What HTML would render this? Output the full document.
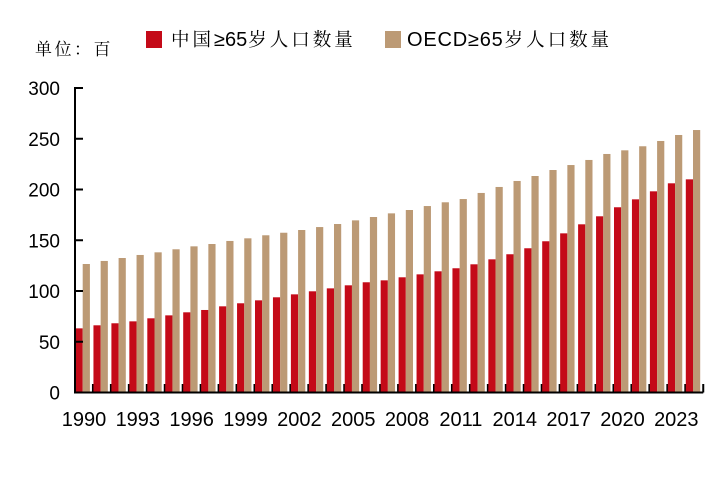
<!DOCTYPE html>
<html><head><meta charset="utf-8"><style>
body{margin:0;background:#fff;width:722px;height:475px;overflow:hidden;font-family:"Liberation Sans","Noto Sans CJK SC",sans-serif;}
svg text{font-family:"Liberation Sans","Noto Sans CJK SC",sans-serif;}
.cj{font-family:"Noto Serif CJK SC","Liberation Serif",serif;font-size:18.5px;letter-spacing:3px;}
</style></head><body>
<svg id="chart" width="722" height="475">
<text x="35" y="55" class="cj" style="font-size:17px;letter-spacing:2.5px">单位：百</text>
<g>
<rect x="146" y="31" width="16" height="17" fill="#c40a18"/>
<text x="171" y="46"><tspan class="cj">中国</tspan><tspan font-size="20">≥65</tspan><tspan class="cj" dx="1">岁人口数量</tspan></text>
<rect x="385" y="31" width="16" height="17" fill="#bc9a75"/>
<text x="407" y="46"><tspan font-size="20" letter-spacing="0.8">OECD≥65</tspan><tspan class="cj" dx="1">岁人口数量</tspan></text>
</g>
<g id="plot"></g>
</svg>
<script>
const years=[1990,1991,1992,1993,1994,1995,1996,1997,1998,1999,2000,2001,2002,2003,2004,2005,2006,2007,2008,2009,2010,2011,2012,2013,2014,2015,2016,2017,2018,2019,2020,2021,2022,2023,2024];
const china=[63.2,66.2,68.2,70.1,73.1,76,79,81.3,84.9,87.9,90.8,93.8,96.7,99.7,102.6,105.6,108.6,110.5,113.5,116.4,119.4,122.4,126.3,131.2,136.2,142.1,149,156.8,165.7,173.6,182.5,190.3,198.2,206.1,210];
const oecd=[126.6,129.6,132.5,135.5,138.1,141.1,144,146.3,149.3,151.9,154.9,157.4,160.1,163,166,169.6,172.9,176.5,179.8,183.7,187.4,190.6,196.6,202.5,208.4,213.3,219.2,224.1,229.1,235,238.6,242.6,247.8,253.7,258.6];
const yTicks=[0,50,100,150,200,250,300];
const NS="http://www.w3.org/2000/svg";
const g=document.getElementById('plot');
const x0=75,cw=17.95,y0=392.5,yk=1.015;
const X=i=>x0+i*cw;
const Y=v=>y0-v*yk;
function mk(t,a){const e=document.createElementNS(NS,t);for(const k in a)e.setAttribute(k,a[k]);g.appendChild(e);return e;}
years.forEach((yr,i)=>{
 let r=mk('rect',{x:X(i)+0.5,y:Y(china[i]),width:7.2,height:y0-Y(china[i]),fill:'#c40a18'});
 
 
 let o=mk('rect',{x:X(i)+7.7,y:Y(oecd[i]),width:7.2,height:y0-Y(oecd[i]),fill:'#bc9a75'});
 
 
 let tk=mk('line',{x1:X(i+1),x2:X(i+1),y1:384,y2:392.5,stroke:'#000','stroke-width':2});
 
 
 if(i%3===0){
  let t=mk('text',{x:X(i)+cw/2,y:426,'font-size':20,'text-anchor':'middle'});
  t.textContent=yr;
  
  
 }
});
yTicks.forEach(v=>{
 let l=mk('line',{x1:75,x2:83,y1:Y(v),y2:Y(v),stroke:'#000','stroke-width':2});
 
 
 let t=mk('text',{x:60,y:Y(v)+7,'font-size':19,'text-anchor':'end'});
 t.textContent=v;
 
 
});
let ya=mk('line',{x1:75,x2:75,y1:Y(300)-1,y2:y0+1,stroke:'#000','stroke-width':2});


let xa=mk('line',{x1:74,x2:X(years.length),y1:y0,y2:y0,stroke:'#000','stroke-width':2});


</script>
</body></html>
